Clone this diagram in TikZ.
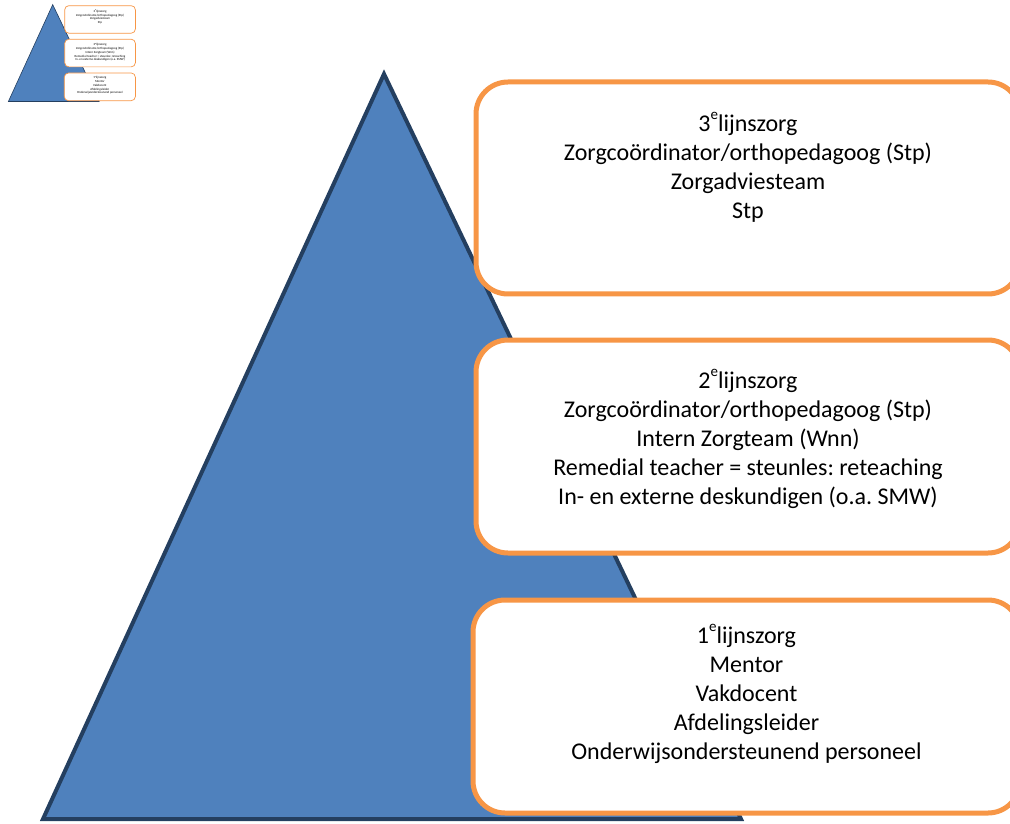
\documentclass[tikz,border=0pt]{standalone}
\usepackage{fontspec}
\setmainfont{Carlito}
\usetikzlibrary{positioning}
\definecolor{piramideblauw}{HTML}{4F81BD}
\definecolor{piramiderand}{HTML}{243F60}
\definecolor{zorgoranje}{HTML}{F79646}
\newcommand{\lijn}[1]{#1\raisebox{0.5em}{\fontsize{7.5}{7.5}\selectfont e}lijnszorg}

% de piramide met de drie zorglijnen, #1 = voorvoegsel voor de namen
\newcommand{\zorgpiramide}[1]{%
  \path[pyramid] (384,74) -- (43,819) -- (741,819) -- cycle;

  \node[zorgbox, minimum width=272pt, minimum height=106pt]   (#1b3) at (748,188) {};
  \node[zorgbox, minimum width=272pt, minimum height=106.5pt] (#1b2) at (748,446.5) {};
  \node[zorgbox, minimum width=273.5pt, minimum height=106.5pt] (#1b1) at (746.5,706.5) {};

  \node[zorgtext, below=16pt of #1b3.north] (#1t3) {\lijn{3}\\
    Zorgcoördinator/orthopedagoog (Stp)\\ Zorgadviesteam\\ Stp};
  \node[zorgtext, below=15.5pt of #1b2.north] (#1t2) {\lijn{2}\\
    Zorgcoördinator/orthopedagoog (Stp)\\ Intern Zorgteam (Wnn)\\
    Remedial teacher = steunles: reteaching\\
    In- en externe deskundigen (o.a. SMW)};
  \node[zorgtext, below=13pt of #1b1.north] (#1t1) {\lijn{1}\\
    Mentor\\ Vakdocent\\ Afdelingsleider\\ Onderwijsondersteunend personeel};
}

\begin{document}
\frenchspacing
\begin{tikzpicture}[
  x=0.5pt, y=-0.5pt,
  pyramid/.style={fill=piramideblauw, draw=piramiderand, line width=2pt, line join=miter},
  zorgbox/.style={rectangle, draw=zorgoranje, fill=white, line width=2.5pt, rounded corners=16pt},
  zorgtext/.style={align=center, inner sep=0pt, font=\fontsize{12}{14.5}\selectfont},
  ]
  \useasboundingbox (0,0) rectangle (1010,823);
  \clip (0,0) rectangle (1010,823);

  \zorgpiramide{}

  % verkleind voorbeeld linksboven
  \begin{scope}[shift={(2.8,-5)}, scale=0.13, transform shape,
    pyramid/.append style={line width=0.3pt},
    zorgbox/.append style={line width=0.35pt, rounded corners=2.1pt}]
    \zorgpiramide{mini}
  \end{scope}
\end{tikzpicture}
\end{document}
